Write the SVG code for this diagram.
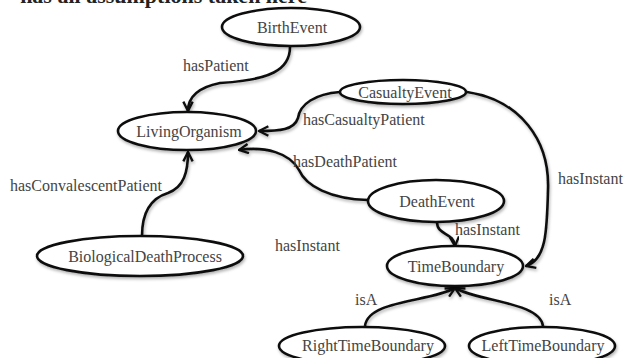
<svg xmlns="http://www.w3.org/2000/svg" width="625" height="358" viewBox="0 0 625 358">
<style>
.node ellipse{fill:#fff;stroke:#111;stroke-width:2.6;filter:url(#sh)}
.node text{font-family:"Liberation Serif","Times New Roman",serif;font-size:16px;fill:#444;text-anchor:middle}
.edges path{fill:none;stroke:#111;stroke-width:2.6;filter:url(#sh)}
.lbl{font-family:"Liberation Serif","Times New Roman",serif;font-size:16px;fill:#444}
.top{font-family:"Liberation Serif","Times New Roman",serif;font-size:22px;font-weight:bold;fill:#222}
</style>
<defs>
<filter id="sh" x="-20%" y="-30%" width="140%" height="160%">
<feDropShadow dx="1" dy="2" stdDeviation="1.5" flood-color="#000" flood-opacity="0.3"/>
</filter>
<marker id="ar" viewBox="0 0 10 10" refX="9" refY="5" markerWidth="4.5" markerHeight="4.5" orient="auto" markerUnits="strokeWidth">
<path d="M1,1 L9,5 L1,9" fill="none" stroke="#111" stroke-width="2"/>
</marker>
</defs>
<rect width="625" height="358" fill="#fff"/>
<text class="top" x="307" y="3" text-anchor="end">has all assumptions taken here</text>
<g class="edges">
<path d="M290,47 C290,70 270,80 220,83 C195,88 188,100 188,111" marker-end="url(#ar)"/>
<path d="M340,92 C315,94 300,104 298,118 C294,130 280,131 259,131" marker-end="url(#ar)"/>
<path d="M368,200 C330,199 306,186 299,170 C290,153 265,146 239,150" marker-end="url(#ar)"/>
<path d="M142,236 C142,207 155,197 168,193 C184,187 188,172 188,152" marker-end="url(#ar)"/>
<path d="M467,92 C520,100 550,140 548,190 C547,232 546,260 526,266" marker-end="url(#ar)"/>
<path d="M437,222 C437,236 454,232 455,246" marker-end="url(#ar)"/>
<path d="M365,326 C368,300 430,302 455,288" marker-end="url(#ar)"/>
<path d="M543,326 C540,302 480,302 455,288" marker-end="url(#ar)"/>
</g>
<g id="BirthEvent" class="node"><ellipse cx="291" cy="27" rx="69" ry="19"/><text x="292" y="33">BirthEvent</text></g>
<g id="LivingOrganism" class="node"><ellipse cx="187" cy="131" rx="69" ry="19"/><text x="189" y="137">LivingOrganism</text></g>
<g id="CasualtyEvent" class="node"><ellipse cx="403" cy="92" rx="63" ry="12"/><text x="405" y="98">CasualtyEvent</text></g>
<g id="DeathEvent" class="node"><ellipse cx="436" cy="201" rx="68" ry="21"/><text x="437" y="207">DeathEvent</text></g>
<g id="TimeBoundary" class="node"><ellipse cx="455" cy="266" rx="68" ry="20"/><text x="456" y="272">TimeBoundary</text></g>
<g id="BiologicalDeathProcess" class="node"><ellipse cx="140" cy="256" rx="103" ry="20"/><text x="145" y="262">BiologicalDeathProcess</text></g>
<g id="RightTimeBoundary" class="node"><ellipse cx="362" cy="346" rx="83" ry="19"/><text x="368" y="351">RightTimeBoundary</text></g>
<g id="LeftTimeBoundary" class="node"><ellipse cx="542" cy="346" rx="73" ry="19"/><text x="543" y="351">LeftTimeBoundary</text></g>
<g id="labels">
<text class="lbl" x="183" y="71">hasPatient</text>
<text class="lbl" x="303" y="125">hasCasualtyPatient</text>
<text class="lbl" x="293" y="167">hasDeathPatient</text>
<text class="lbl" x="10" y="191">hasConvalescentPatient</text>
<text class="lbl" x="275" y="251">hasInstant</text>
<text class="lbl" x="558" y="184">hasInstant</text>
<text class="lbl" x="455" y="235">hasInstant</text>
<text class="lbl" x="355" y="305">isA</text>
<text class="lbl" x="549" y="305">isA</text>
</g>
</svg>
